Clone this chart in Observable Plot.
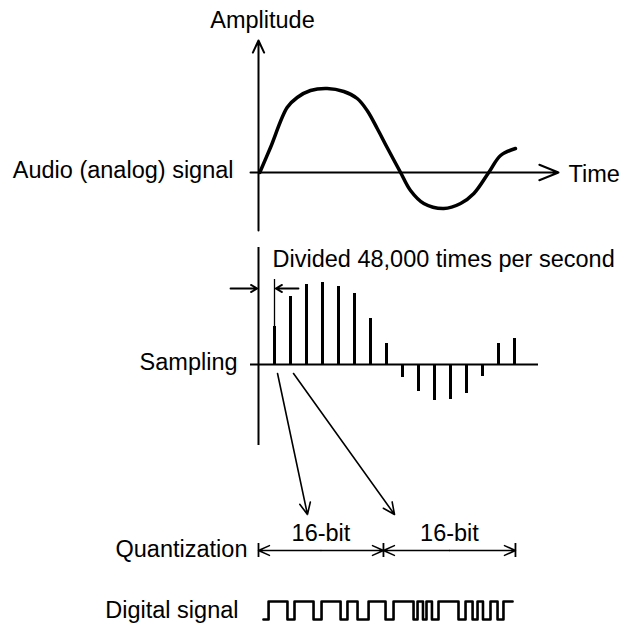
<!DOCTYPE html>
<html>
<head>
<meta charset="utf-8">
<script src="https://cdn.jsdelivr.net/npm/d3@7"></script>
<script src="https://cdn.jsdelivr.net/npm/@observablehq/plot@0.6"></script>
<style>
  body { margin: 0; background: #fff; }
</style>
</head>
<body>
<div id="chart"></div>
<script>
// ---- Data (time in sample periods, amplitude in diagram units) ----
// Analog (audio) signal, hand-drawn sine
const analogTime = [0.08, 0.75, 1.79, 2.42, 3.25, 4.29, 5.33, 6.17, 6.79, 7.42, 8.04, 8.88, 9.5, 10.33, 11.58, 12.63, 13.46, 14.39, 15.13, 16.06];
const analogAmp  = [0, 25, 65, 75, 82, 84, 81, 74, 62, 44, 25, 0, -18, -31, -36, -31, -21, 0, 17, 24];

// Sampled values (one every sample period)
const sampleIndex  = [1, 2, 3, 4, 5, 6, 7, 8, 9, 10, 11, 12, 13, 14, 15, 16];
const sampleValues = [38, 68, 80, 82, 78, 71, 46, 21, -13, -27, -36, -35, -29, -12, 21, 26];

// Quantization words
const wordBounds = [0, 7.81, 16.06];
const wordLabels = ["16-bit", "16-bit"];

// Digital signal: edge times and level after each edge
const digitalTime   = [0.31, 0.63, 1.81, 2.25, 3.44, 3.94, 5.13, 5.56, 6.19, 6.88, 7.94, 8.44, 9.69, 9.94, 10.28, 10.5, 10.84, 11.25, 12.5, 12.94, 13.38, 13.69, 14.03, 14.5, 14.94, 15.31, 15.88];
const digitalLevels = [0, 1, 0, 1, 0, 1, 0, 1, 0, 1, 0, 1, 0, 1, 0, 1, 0, 1, 0, 1, 0, 1, 0, 1, 0, 1, 1];

// Row labels
const labelText   = ["Amplitude", "Audio (analog) signal", "Time", "Divided 48,000 times per second", "Sampling", "Quantization", "Digital signal"];
const labelTime   = [0.25, -1.56, 19.375, 0.875, -1.31, -0.69, -1.25];
const labelLevel  = [152, 2, -2.3, -87, -190, -377, -438];
const labelAnchor = ["middle", "end", "start", "start", "end", "end", "end"];

// ---- Layout of the rows (diagram units) ----
const row = {analog: 0, sampling: -192, quant: -378, digiLow: -447, digiHigh: -429};

// ---- Tables built from the arrays ----
const analog = analogTime.map((t, i) => ({t, a: analogAmp[i]}));
const samples = sampleIndex.map((k, i) => ({k, v: sampleValues[i]}));
const labels = labelText.map((text, i) => ({text, t: labelTime[i], v: labelLevel[i], anchor: labelAnchor[i]}));
const digital = digitalTime.map((t, i) => ({t, v: digitalLevels[i] ? row.digiHigh : row.digiLow}));
const words = wordLabels.map((label, i) => ({label, from: wordBounds[i], to: wordBounds[i + 1], mid: (wordBounds[i] + wordBounds[i + 1]) / 2}));
const wordArrows = words.flatMap(w => [{x1: w.mid, x2: w.from}, {x1: w.mid, x2: w.to}]);

const textOpts = {fontSize: 23.5, fill: "black", lineAnchor: "middle"};

const chart = Plot.plot({
  width: 637,
  height: 623,
  margin: 0,
  style: {fontFamily: "'Liberation Sans', Arial, Helvetica, sans-serif", background: "white", color: "black", overflow: "visible"},
  x: {axis: null, domain: [-258 / 16, (637 - 258) / 16]},
  y: {axis: null, domain: [-451, 172]},
  marks: [
    // Analog panel axes
    Plot.arrow([0], {x1: 0, x2: 0, y1: -58, y2: 132, strokeWidth: 2, headLength: 10, headAngle: 50, stroke: "black"}),
    Plot.arrow([0], {x1: -0.5, x2: 18.75, y1: row.analog, y2: row.analog, strokeWidth: 2, headLength: 15.5, headAngle: 44, stroke: "black"}),
    Plot.line(analog, {x: "t", y: "a", curve: "catmull-rom", strokeWidth: 3.5, stroke: "black", strokeLinecap: "round"}),

    // Sampling panel
    Plot.ruleX([0], {x: d => d, y1: -75, y2: -273, strokeWidth: 2, stroke: "black"}),
    Plot.ruleY([row.sampling], {y: d => d, x1: -0.5, x2: 17.5, strokeWidth: 2, stroke: "black"}),
    Plot.ruleX(samples, {x: "k", y1: row.sampling, y2: d => row.sampling + d.v, strokeWidth: 3, stroke: "black"}),
    // extension line of the first sample for the interval dimension
    Plot.ruleX([samples[0]], {x: "k", y1: d => row.sampling + d.v, y2: -107, strokeWidth: 1.3, stroke: "black"}),
    Plot.arrow([0], {x1: -1.75, x2: -0.08, y1: -116, y2: -116, strokeWidth: 1.8, headLength: 6, headAngle: 60, stroke: "black"}),
    Plot.arrow([0], {x1: 2.5, x2: 1.08, y1: -116, y2: -116, strokeWidth: 1.8, headLength: 6, headAngle: 60, stroke: "black"}),

    // arrows from samples to quantization
    Plot.arrow(samples.slice(0, 2), {x1: d => d.k + 0.19, y1: -201, x2: (d, i) => [3.06, 8.5][i], y2: -342, strokeWidth: 1.6, headLength: 12, headAngle: 50, stroke: "black"}),

    // Quantization words
    Plot.arrow(wordArrows, {x1: "x1", x2: "x2", y1: row.quant, y2: row.quant, strokeWidth: 1.5, headLength: 12, headAngle: 48, stroke: "black"}),
    Plot.ruleX(wordBounds, {x: d => d, y1: row.quant + 7, y2: row.quant - 7, strokeWidth: 1.8, stroke: "black"}),
    Plot.text(words, {x: "mid", y: -361, text: "label", ...textOpts, textAnchor: "middle"}),

    // Digital signal
    Plot.line(digital, {x: "t", y: "v", curve: "step-after", strokeWidth: 2.6, stroke: "black"}),

    // Labels
    Plot.text(labels.filter(d => d.anchor === "middle"), {x: "t", y: "v", text: "text", ...textOpts, textAnchor: "middle"}),
    Plot.text(labels.filter(d => d.anchor === "end"), {x: "t", y: "v", text: "text", ...textOpts, textAnchor: "end"}),
    Plot.text(labels.filter(d => d.anchor === "start"), {x: "t", y: "v", text: "text", ...textOpts, textAnchor: "start"})
  ]
});

document.getElementById("chart").appendChild(chart);
</script>
</body>
</html>
